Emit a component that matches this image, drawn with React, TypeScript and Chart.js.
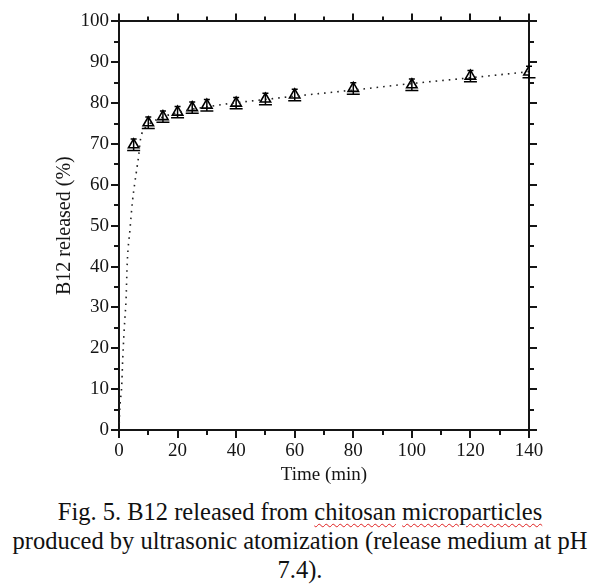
import React, { useEffect, useRef } from 'react';
import { Chart, registerables } from 'chart.js';

Chart.register(...registerables);

// Measured release data (markers)
const timeMin = [5, 10, 15, 20, 25, 30, 40, 50, 60, 80, 100, 120, 140];
const releasedPct = [69.8, 75.2, 76.7, 77.8, 78.9, 79.5, 80.0, 81.0, 82.0, 83.6, 84.5, 86.6, 87.6];
const releasedErr = [1.4, 1.4, 1.4, 1.4, 1.4, 1.4, 1.4, 1.4, 1.4, 1.4, 1.4, 1.4, 1.4];

// Fitted curve (dotted line)
const fitTime = [0, 0.3, 0.9, 1.3, 2.0, 2.4, 2.8, 3.8, 4.6, 5.3, 5.9, 6.3, 6.7, 7.2, 7.7, 8.5, 10, 15, 20, 25, 30, 40, 50, 60, 80, 100, 120, 140];
const fitPct = [0, 5.6, 10.5, 17.8, 27.3, 31.7, 40.7, 49.5, 56, 60, 63, 65, 67, 70.5, 72.3, 73.5, 74.7, 76.6, 77.7, 78.5, 79.1, 80.1, 80.9, 81.7, 83.2, 84.8, 86.2, 87.7];

// Axis ticks
const xMajor = [0, 20, 40, 60, 80, 100, 120, 140];
const xMinor = [10, 30, 50, 70, 90, 110, 130];
const yMajor = [0, 10, 20, 30, 40, 50, 60, 70, 80, 90, 100];
const yMinor = [5, 15, 25, 35, 45, 55, 65, 75, 85, 95];

const SERIF = '"Liberation Serif", "Times New Roman", Times, serif';
const INK = '#151515';

const axisTicksPlugin = {
  id: 'axisTicks',
  afterDraw(chart: any) {
    const { ctx, chartArea, scales } = chart;
    const { left, right, top, bottom } = chartArea;
    const x = scales.x;
    const y = scales.y;
    ctx.save();
    ctx.strokeStyle = INK;
    ctx.lineWidth = 2;
    const seg = (x1: number, y1: number, x2: number, y2: number) => {
      ctx.beginPath();
      ctx.moveTo(x1, y1);
      ctx.lineTo(x2, y2);
      ctx.stroke();
    };
    xMajor.forEach((v) => {
      const p = Math.round(x.getPixelForValue(v));
      seg(p, bottom, p, bottom + 8);
      seg(p, top, p, top - 8);
    });
    xMinor.forEach((v) => {
      const p = Math.round(x.getPixelForValue(v));
      seg(p, bottom, p, bottom + 5);
      seg(p, top, p, top - 5);
    });
    yMajor.forEach((v) => {
      const p = Math.round(y.getPixelForValue(v));
      seg(left, p, left - 8, p);
      seg(right, p, right + 8, p);
    });
    yMinor.forEach((v) => {
      const p = Math.round(y.getPixelForValue(v));
      seg(left, p, left - 5, p);
      seg(right, p, right + 5, p);
    });
    ctx.restore();
  },
};

const errorBarPlugin = {
  id: 'errorBars',
  afterDatasetsDraw(chart: any) {
    const { ctx, scales } = chart;
    const x = scales.x;
    const y = scales.y;
    ctx.save();
    ctx.strokeStyle = '#000';
    ctx.lineWidth = 1.5;
    timeMin.forEach((t, i) => {
      const px = x.getPixelForValue(t);
      const hi = y.getPixelForValue(releasedPct[i] + releasedErr[i]);
      const lo = y.getPixelForValue(releasedPct[i] - releasedErr[i]);
      ctx.beginPath();
      ctx.moveTo(px, hi);
      ctx.lineTo(px, lo);
      ctx.moveTo(px - 3, hi);
      ctx.lineTo(px + 3, hi);
      ctx.moveTo(px - 6.5, lo);
      ctx.lineTo(px + 6.5, lo);
      ctx.stroke();
    });
    ctx.restore();
  },
};

function ReleaseChart() {
  const ref = useRef<HTMLCanvasElement | null>(null);
  useEffect(() => {
    if (!ref.current) return;
    const tickFont = { family: SERIF, size: 19 };
    const border = { display: true, color: INK, width: 2 };
    const chart = new Chart(ref.current, {
      type: 'scatter',
      data: {
        datasets: [
          {
            label: 'fit',
            data: fitTime.map((t, i) => ({ x: t, y: fitPct[i] })),
            showLine: true,
            borderColor: '#222',
            borderWidth: 1.6,
            borderDash: [1.6, 5],
            pointRadius: 0,
            cubicInterpolationMode: 'monotone',
            fill: false,
          },
          {
            label: 'B12',
            data: timeMin.map((t, i) => ({ x: t, y: releasedPct[i] })),
            showLine: false,
            pointStyle: 'triangle',
            pointRadius: 6,
            borderColor: '#000',
            backgroundColor: '#fff',
            pointBorderWidth: 1.6,
          },
        ],
      } as any,
      options: {
        responsive: false,
        animation: false,
        layout: { padding: 0 },
        plugins: { legend: { display: false }, tooltip: { enabled: false } },
        scales: {
          x: {
            type: 'linear',
            position: 'bottom',
            min: 0,
            max: 140,
            ticks: { stepSize: 20, padding: 10, color: INK, font: tickFont, maxRotation: 0 },
            grid: { display: false, drawTicks: false },
            border,
            title: {
              display: true,
              text: 'Time (min)',
              color: INK,
              font: { family: SERIF, size: 19 },
              padding: { top: 0, bottom: 9 },
            },
            afterFit: (s: any) => { s.height = 65; },
          },
          x2: {
            type: 'linear',
            position: 'top',
            min: 0,
            max: 140,
            ticks: { display: false },
            grid: { display: false, drawTicks: false },
            border,
            afterFit: (s: any) => { s.height = 20; },
          },
          y: {
            type: 'linear',
            position: 'left',
            min: 0,
            max: 100,
            ticks: { stepSize: 10, padding: 10, color: INK, font: tickFont },
            grid: { display: false, drawTicks: false },
            border,
            title: {
              display: true,
              text: 'B12 released (%)',
              color: INK,
              font: { family: SERIF, size: 20 },
              padding: { top: 53, bottom: 0 },
            },
            afterFit: (s: any) => { s.width = 119; },
          },
          y2: {
            type: 'linear',
            position: 'right',
            min: 0,
            max: 100,
            ticks: { display: false },
            grid: { display: false, drawTicks: false },
            border,
            afterFit: (s: any) => { s.width = 71; },
          },
        },
      } as any,
      plugins: [axisTicksPlugin, errorBarPlugin],
    });
    return () => chart.destroy();
  }, []);
  return <canvas ref={ref} width={600} height={495} style={{ width: 600, height: 495, display: 'block' }} />;
}

const wavy: React.CSSProperties = {
  textDecorationLine: 'underline',
  textDecorationStyle: 'wavy',
  textDecorationColor: '#e02020',
  textDecorationThickness: '1px',
  textUnderlineOffset: '3px',
};

export default function App() {
  return (
    <div style={{ position: 'absolute', left: 0, top: 0, width: 600, height: 585, background: '#fff', overflow: 'hidden' }}>
      <ReleaseChart />
      <div
        style={{
          position: 'absolute',
          top: 497,
          left: 0,
          width: 600,
          textAlign: 'center',
          fontFamily: SERIF,
          fontSize: 24.5,
          lineHeight: '29px',
          color: '#111',
        }}
      >
        <div style={{ whiteSpace: 'nowrap' }}>
          Fig. 5. B12 released from <span style={wavy}>chitosan</span> <span style={wavy}>microparticles</span>
        </div>
        <div style={{ whiteSpace: 'nowrap' }}>produced by ultrasonic atomization (release medium at pH</div>
        <div style={{ whiteSpace: 'nowrap' }}>7.4).</div>
      </div>
    </div>
  );
}
